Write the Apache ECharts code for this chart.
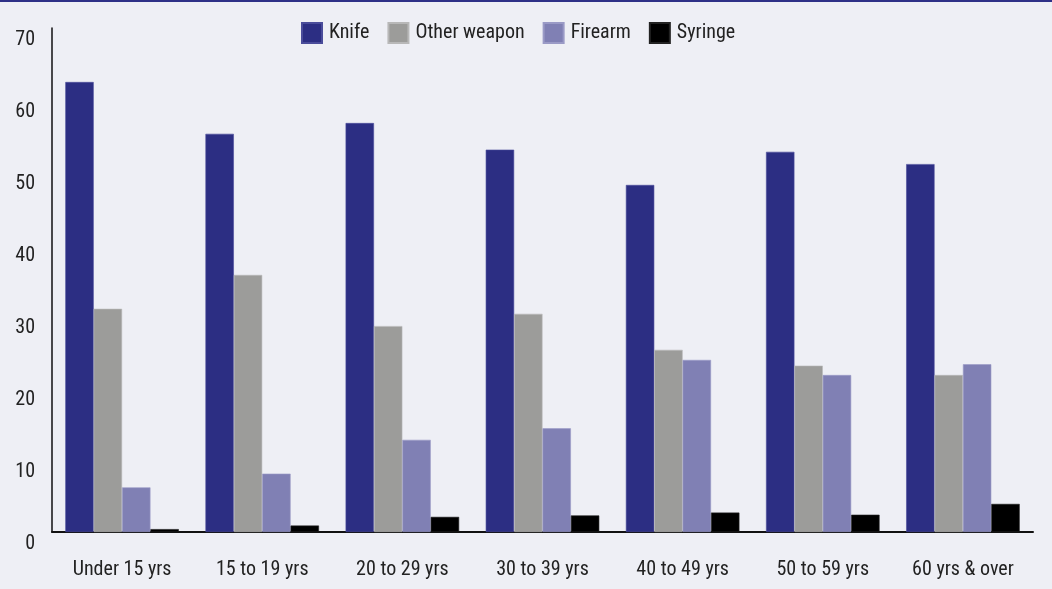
<!DOCTYPE html>
<html><head><meta charset="utf-8">
<script src="https://cdn.jsdelivr.net/npm/echarts@6/dist/echarts.min.js"></script>
<style>html,body{margin:0;padding:0;background:#eeeff5;}#c{width:1052px;height:589px;}</style>
</head><body><div id="c"></div>
<script>
const categories = ['Under 15 yrs','15 to 19 yrs','20 to 29 yrs','30 to 39 yrs','40 to 49 yrs','50 to 59 yrs','60 yrs & over'];
const knife = [62.5, 55.3, 56.8, 53.1, 48.2, 52.8, 51.1];
const otherWeapon = [31.0, 35.7, 28.6, 30.3, 25.3, 23.1, 21.8];
const firearm = [6.2, 8.1, 12.8, 14.4, 23.9, 21.8, 23.3];
const syringe = [0.4, 0.9, 2.1, 2.3, 2.7, 2.4, 3.9];
const yTicks = [0,10,20,30,40,50,60,70];

const font = "'Roboto Condensed', sans-serif";
const chart = echarts.init(document.getElementById('c'));
const mk = (name, data, color, border) => ({
  name, type:'bar', data, barGap:'0%', barCategoryGap:'19%',
  itemStyle:{color, borderColor:border, borderWidth:0.6}
});
chart.setOption({
  backgroundColor:'#eeeff5',
  animation:false,
  textStyle:{fontFamily:font},
  graphic:[{type:'rect', left:0, top:0, shape:{width:1052, height:2}, style:{fill:'#2e3087'}}],
  legend:{
    top:17, left:296, itemWidth:20, itemHeight:20, itemGap:18,
    icon:'rect',
    textStyle:{fontSize:20, color:'#222', fontFamily:font, padding:[0,0,0,2]},
    data:['Knife','Other weapon','Firearm','Syringe']
  },
  grid:{left:52, right:19, top:28, bottom:57},
  xAxis:{
    type:'category', data:categories,
    axisLine:{lineStyle:{color:'#111', width:2}},
    axisTick:{show:false},
    axisLabel:{fontSize:20, color:'#222', margin:28, interval:0, fontFamily:font}
  },
  yAxis:{
    type:'value', min:0, max:70, interval:10,
    axisLine:{show:true, lineStyle:{color:'#111', width:1.5}},
    axisTick:{show:false},
    splitLine:{show:false},
    axisLabel:{fontSize:20, color:'#222', margin:17, verticalAlign:'top', padding:[2,0,0,0], fontFamily:font,
      formatter: v => yTicks.includes(v) ? String(v) : ''}
  },
  series:[
    mk('Knife', knife, '#2c2e83', '#4a4c9a'),
    mk('Other weapon', otherWeapon, '#9c9c9a', '#b8b8b8'),
    mk('Firearm', firearm, '#8080b4', '#9a9ac6'),
    mk('Syringe', syringe, '#000000', '#222222')
  ]
});
</script></body></html>
